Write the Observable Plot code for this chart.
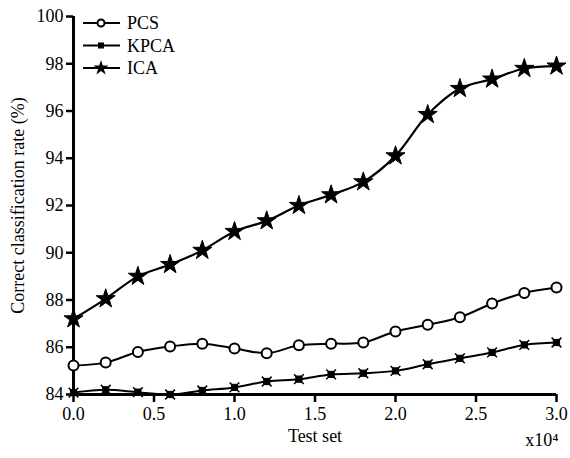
<!DOCTYPE html>
<html><head><meta charset="utf-8">
<script src="https://cdn.jsdelivr.net/npm/d3@7"></script>
<script src="https://cdn.jsdelivr.net/npm/@observablehq/plot@0.6"></script>
<style>
body{margin:0;background:#fff;}
#wrap{position:relative;width:570px;height:458px;}
#legend{position:absolute;left:0;top:0;}
</style>
</head><body>
<div id="wrap"></div>
<script>
const testSet = [0,0.2,0.4,0.6,0.8,1.0,1.2,1.4,1.6,1.8,2.0,2.2,2.4,2.6,2.8,3.0];
const pcs  = [85.23,85.35,85.8,86.03,86.15,85.95,85.75,86.08,86.15,86.2,86.67,86.95,87.27,87.85,88.3,88.53];
const kpca = [84.08,84.2,84.1,84.0,84.17,84.3,84.55,84.65,84.85,84.9,85.0,85.28,85.53,85.78,86.1,86.2];
const ica  = [87.2,88.05,89.0,89.5,90.1,90.9,91.35,92.0,92.45,93.0,94.1,95.85,96.95,97.35,97.8,97.9];
const seriesNames = ["PCS","KPCA","ICA"];
const xTicks = [0,0.5,1.0,1.5,2.0,2.5,3.0];
const yTicks = [84,86,88,90,92,94,96,98,100];

const rows = (arr) => testSet.map((x,i)=>({x, y: arr[i]}));
const dP = rows(pcs), dK = rows(kpca), dI = rows(ica);

const font = "Liberation Serif, Times New Roman, serif";
const chart = Plot.plot({
  width: 570, height: 458,
  marginLeft: 73, marginRight: 14, marginTop: 16, marginBottom: 64,
  style: {fontFamily: font, fontSize: "18px", color: "#000", background: "#fff"},
  x: {domain: [0,3]},
  y: {domain: [84,100]},
  marks: [
    Plot.axisX({ticks: xTicks, tickFormat: d3.format(".1f"), tickSize: 8, tickPadding: 5, strokeWidth: 2.5, label: null}),
    Plot.axisY({ticks: yTicks, tickFormat: d=>d, tickSize: 7, tickPadding: 3, strokeWidth: 2.5, label: null}),
    Plot.ruleX([0], {strokeWidth: 3, y1: 84, y2: 100}),
    Plot.ruleY([84], {strokeWidth: 3, x1: 0, x2: 3}),
    Plot.line(dK, {x:"x", y:"y", stroke:"#000", strokeWidth:2, curve:"catmull-rom"}),
    Plot.line(dP, {x:"x", y:"y", stroke:"#000", strokeWidth:2, curve:"catmull-rom"}),
    Plot.line(dI, {x:"x", y:"y", stroke:"#000", strokeWidth:2.2, curve:"catmull-rom"}),
    Plot.dot(dK, {x:"x", y:"y", symbol:"square", r:3.5, fill:"#000", stroke:"#000", strokeWidth:1}),
    Plot.dot(dK, {x:"x", y:"y", symbol:"times", r:4.5, stroke:"#000", strokeWidth:1.5}),
    Plot.dot(dP, {x:"x", y:"y", symbol:"circle", r:5, fill:"#fff", stroke:"#000", strokeWidth:2}),
    Plot.dot(dI, {x:"x", y:"y", symbol:"star", r:6, fill:"#000", stroke:"#000", strokeWidth:1}),
    Plot.text(["Test set"], {frameAnchor:"bottom", dy: 47, fontSize: 18}),
    Plot.text(["x10\u2074"], {frameAnchor:"bottom-right", textAnchor:"end", dx: 2, dy: 51, fontSize: 18}),
    Plot.text(["Correct classification rate (%)"], {frameAnchor:"left", textAnchor:"middle", rotate:-90, dx:-55, fontSize: 18})
  ]
});
document.getElementById("wrap").appendChild(chart);

// legend
const lg = d3.select("#wrap").append("svg").attr("id","legend").attr("width",200).attr("height",90)
  .style("font-family", font).style("font-size","18px");
seriesNames.forEach((name,i)=>{
  const y = 23 + i*22.5;
  lg.append("line").attr("x1",83).attr("x2",120).attr("y1",y).attr("y2",y).attr("stroke","#000").attr("stroke-width",2);
  if (name==="PCS") lg.append("circle").attr("cx",101).attr("cy",y).attr("r",3.5).attr("fill","#fff").attr("stroke","#000").attr("stroke-width",2);
  else if (name==="KPCA") lg.append("rect").attr("x",98).attr("y",y-3).attr("width",6).attr("height",6).attr("fill","#000");
  else lg.append("path").attr("d", d3.symbol(d3.symbolStar, 70)()).attr("transform",`translate(101,${y})`).attr("fill","#000");
  lg.append("text").attr("x",127).attr("y",y).attr("dy","0.35em").text(name);
});
</script>
</body></html>
